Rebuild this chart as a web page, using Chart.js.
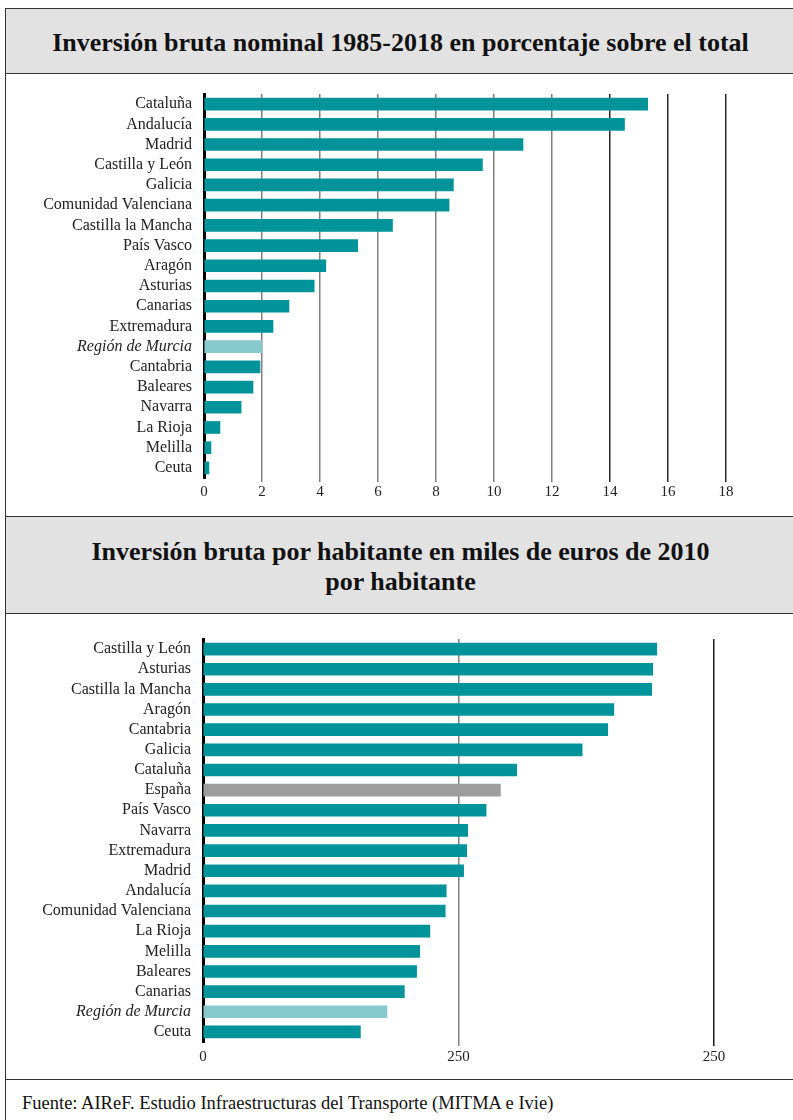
<!DOCTYPE html>
<html>
<head>
<meta charset="utf-8">
<script src="https://cdn.jsdelivr.net/npm/chart.js@4/dist/chart.umd.min.js"></script>
<style>
    body { margin: 0; background: #fff; font-family: "Liberation Serif", "DejaVu Serif", serif; color: #111; }
    .box { position: absolute; left: 5px; width: 810px; box-sizing: border-box; border-left: 1.5px solid #333; }
    .title { background: #e2e2e2; border-top: 1.5px solid #333; border-bottom: 1.5px solid #333;
             font-weight: bold; font-size: 26px; text-align: center; line-height: 30px; padding-right: 20px; }
    canvas { position: absolute; }
</style>
</head>
<body>
<div class="box title" style="top:8px;height:66px;padding-top:19px;">Inversión bruta nominal 1985-2018 en porcentaje sobre el total</div>
<div class="box" style="top:74px;height:443px;"></div>
<div class="box title" style="top:516px;height:98px;padding-top:20px;">Inversión bruta por habitante en miles de euros de 2010<br>por habitante</div>
<div class="box" style="top:614px;height:466px;"></div>
<div class="box" style="top:1079px;height:60px;border-top:1.5px solid #333;font-size:18.5px;padding:13px 0 0 16px;">Fuente: AIReF. Estudio Infraestructuras del Transporte (MITMA e Ivie)</div>

<canvas id="shareChart" width="787" height="442" style="left:6px;top:74px;"></canvas>
<canvas id="perCapitaChart" width="787" height="464" style="left:6px;top:615px;"></canvas>

<script>
// Inversión bruta nominal 1985-2018, % sobre el total
const regionsShare = ["Cataluña", "Andalucía", "Madrid", "Castilla y León", "Galicia", "Comunidad Valenciana",
    "Castilla la Mancha", "País Vasco", "Aragón", "Asturias", "Canarias", "Extremadura", "Región de Murcia",
    "Cantabria", "Baleares", "Navarra", "La Rioja", "Melilla", "Ceuta"];
const shareValues = [15.3, 14.5, 11.0, 9.6, 8.6, 8.45, 6.5, 5.3, 4.2, 3.8, 2.93, 2.38, 2.0, 1.93, 1.69, 1.28, 0.55, 0.24, 0.17];
const shareTicks = ["0", "2", "4", "6", "8", "10", "12", "14", "16", "18"];

// Inversión bruta por habitante (miles de euros de 2010)
const regionsPerCapita = ["Castilla y León", "Asturias", "Castilla la Mancha", "Aragón", "Cantabria", "Galicia",
    "Cataluña", "España", "País Vasco", "Navarra", "Extremadura", "Madrid", "Andalucía", "Comunidad Valenciana",
    "La Rioja", "Melilla", "Baleares", "Canarias", "Región de Murcia", "Ceuta"];
const perCapitaValues = [444, 440, 439, 402, 396, 371, 307, 291, 277, 259, 258, 255, 238, 237, 222, 212, 209, 197, 180, 154];
const perCapitaTicks = ["0", "250", "250"];

const TEAL = "#00949a";
const MURCIA = "#88c9cd";
const SPAIN = "#9d9d9d";
const FONT = "'Liberation Serif', 'DejaVu Serif', serif";

function barColours(labels) {
    return labels.map(function (l) {
        if (l === "Región de Murcia") return MURCIA;
        if (l === "España") return SPAIN;
        return TEAL;
    });
}

function makeChart(id, labels, values, tickLabels, step, pad, gridColour) {
    const ctx = document.getElementById(id).getContext("2d");
    return new Chart(ctx, {
        type: "bar",
        data: {
            labels: labels,
            datasets: [{
                data: values,
                backgroundColor: barColours(labels),
                barThickness: 12,
                borderWidth: 0
            }]
        },
        options: {
            indexAxis: "y",
            responsive: false,
            animation: false,
            layout: { padding: pad },
            plugins: { legend: { display: false }, tooltip: { enabled: false } },
            scales: {
                x: {
                    min: 0,
                    max: step * (tickLabels.length - 1),
                    afterBuildTicks: function (axis) {
                        axis.ticks = tickLabels.map(function (t, i) { return { value: i * step }; });
                    },
                    afterFit: function (axis) { axis.height = 30; },
                    border: { display: false },
                    grid: {
                        color: function (c) { return c.index === 0 ? "rgba(0,0,0,0)" : gridColour(c.index); },
                        lineWidth: 1.5,
                        tickLength: 4
                    },
                    ticks: {
                        padding: pad.tickPad,
                        color: "#222",
                        font: { family: FONT, size: 15 },
                        callback: function (v, i) { return tickLabels[i]; }
                    }
                },
                y: {
                    z: 1,
                    afterFit: function (axis) { axis.width = pad.yWidth; },
                    border: { display: true, color: "#000", width: 3 },
                    grid: { display: false },
                    ticks: {
                        autoSkip: false,
                        padding: 4,
                        color: "#222",
                        font: function (c) {
                            return {
                                family: FONT,
                                size: 16,
                                style: labels[c.index] === "Región de Murcia" ? "italic" : "normal"
                            };
                        }
                    }
                }
            }
        }
    });
}

makeChart("shareChart", regionsShare, shareValues, shareTicks, 2,
    { left: 0, right: 67, top: 20, bottom: 8, yWidth: 198, tickPad: 1 },
    function (i) { return i >= 7 ? "#2a2a2a" : "#808080"; });

makeChart("perCapitaChart", regionsPerCapita, perCapitaValues, perCapitaTicks, 250,
    { left: 0, right: 79, top: 24, bottom: 7, yWidth: 197, tickPad: 2 },
    function (i) { return i >= 2 ? "#1a1a1a" : "#808080"; });
</script>
</body>
</html>
